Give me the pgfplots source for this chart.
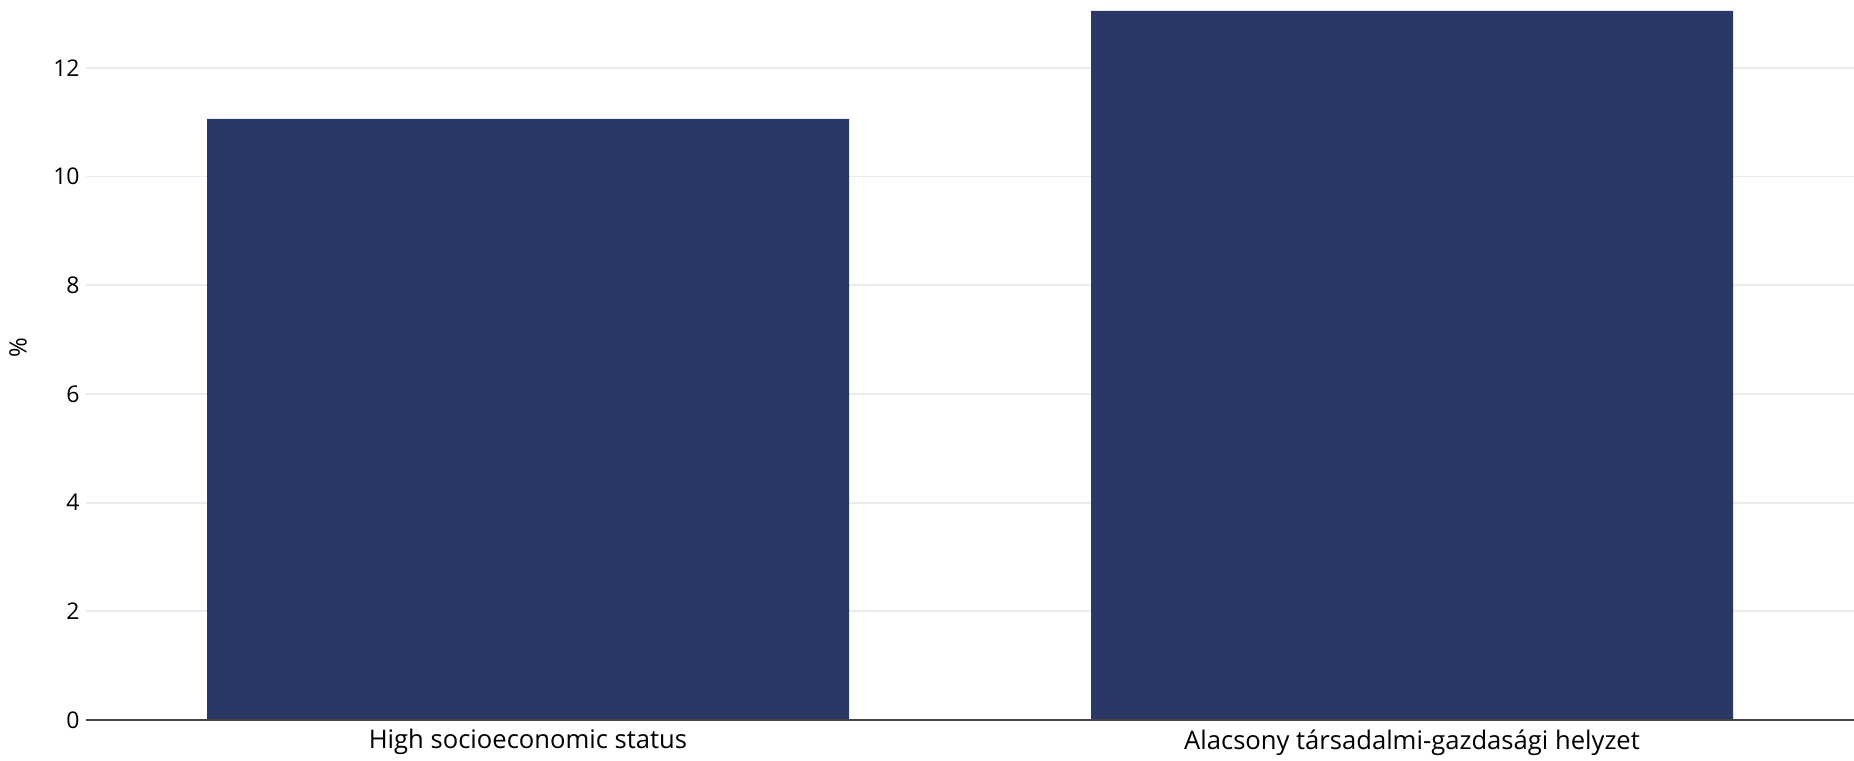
\documentclass[border=0pt]{standalone}
\usepackage{fontspec}
\setmainfont{Open Sans}
\usepackage{pgfplots}
\pgfplotsset{compat=1.18}
\definecolor{barblue}{RGB}{43,55,100}
\definecolor{gridgray}{RGB}{235,235,235}
\definecolor{zerogray}{RGB}{68,68,68}
\begin{document}
\fontsize{12bp}{14bp}\selectfont
\begin{tikzpicture}
\useasboundingbox (0,0) rectangle (927bp,380.5bp);
\begin{axis}[
  at={(43bp,20.5bp)}, anchor=south west,
  scale only axis,
  width=884bp, height=360bp,
  xmin=-0.5, xmax=1.5,
  ymin=0, ymax=13.25,
  axis line style={draw=none},
  major tick length=0pt,
  xtick={0,1},
  xticklabels={High socioeconomic status, Alacsony társadalmi-gazdasági helyzet},
  ytick={0,2,4,6,8,10,12},
  ymajorgrids,
  grid style={gridgray, line width=0.9bp},
  /pgf/number format/assume math mode=true,
  yticklabel style={inner sep=0pt, xshift=-3bp, font=\fontsize{11.5bp}{14bp}\selectfont},
  xticklabel style={inner sep=0pt, anchor=north, yshift=-4.5bp, font=\fontsize{12.8bp}{14bp}\selectfont},
  ylabel={\%},
  ylabel style={at={(axis description cs:0,0.5)}, anchor=center, xshift=6bp, yshift=34bp, inner sep=0pt, font=\fontsize{12bp}{14bp}\selectfont},
  clip=false,
]
\addplot[ybar, bar width=321bp, fill=barblue, draw=none] coordinates {(0,11.06) (1,13.05)};
\draw[zerogray, line width=1bp] (axis cs:-0.5,0) -- (axis cs:1.5,0);
\end{axis}
\end{tikzpicture}
\end{document}
